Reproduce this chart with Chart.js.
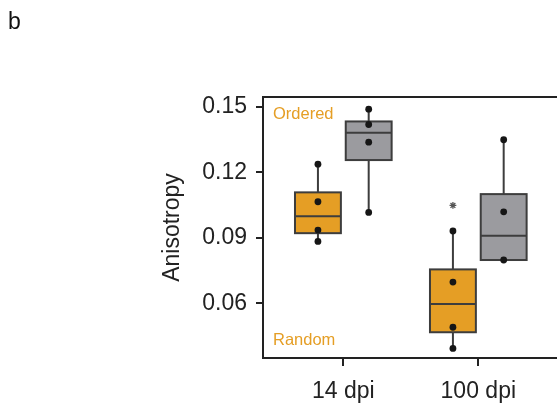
<!DOCTYPE html>
<html>
<head>
<meta charset="utf-8">
<script src="https://cdn.jsdelivr.net/npm/chart.js@4/dist/chart.umd.min.js"></script>
<style>
html,body{margin:0;padding:0;background:#fff;overflow:hidden;}
canvas{display:block;}
</style>
</head>
<body>
<canvas id="c" width="557" height="408"></canvas>
<script>
// ---- data ----
const categories = ['14 dpi', '100 dpi'];
const groups = ['Random', 'Ordered'];
const yTicks = [0.06, 0.09, 0.12, 0.15];
// [whiskerLow, q1, median, q3, whiskerHigh] per category
const randomStats = [
  [0.0883, 0.0921, 0.0999, 0.1108, 0.1237],
  [0.0393, 0.0467, 0.0596, 0.0755, 0.0931]
];
const orderedStats = [
  [0.1016, 0.1256, 0.1381, 0.1433, 0.1489],
  [0.0798, 0.0798, 0.0909, 0.1100, 0.1349]
];
const randomPoints = [
  [0.1237, 0.1065, 0.0935, 0.0883],
  [0.0931, 0.0697, 0.0490, 0.0393]
];
const orderedPoints = [
  [0.1489, 0.1419, 0.1338, 0.1016],
  [0.1349, 0.1019, 0.0798]
];
const randomOutliers = [[], [0.1048]];
const orderedOutliers = [[], []];

// ---- style ----
const ORANGE = '#E59E25';
const GREY = '#9B9B9F';
const DODGE = 0.188;
const BOXW = 0.17; // half width in x units
const groupStyle = [
  {stats: randomStats, points: randomPoints, outliers: randomOutliers, fill: ORANGE, off: -DODGE},
  {stats: orderedStats, points: orderedPoints, outliers: orderedOutliers, fill: GREY, off: DODGE}
];

const datasets = [];
groupStyle.forEach((g, gi) => {
  const pts = [];
  g.points.forEach((arr, ci) => arr.forEach(v => pts.push({x: ci + 1 + g.off, y: v})));
  datasets.push({
    label: groups[gi], type: 'scatter', data: pts,
    pointRadius: 3.4, pointHoverRadius: 3.4,
    backgroundColor: '#161616', borderColor: '#161616', borderWidth: 0
  });
  const outs = [];
  g.outliers.forEach((arr, ci) => arr.forEach(v => outs.push({x: ci + 1 + g.off, y: v})));
  datasets.push({
    label: groups[gi] + ' outliers', type: 'scatter', data: outs,
    pointStyle: 'star', pointRadius: 3.4, borderColor: '#555', borderWidth: 1.3,
    backgroundColor: '#555'
  });
});

const boxPlugin = {
  id: 'boxes',
  beforeDatasetsDraw(chart) {
    const ctx = chart.ctx, xs = chart.scales.x, ys = chart.scales.y;
    ctx.save();
    groupStyle.forEach(g => {
      g.stats.forEach((s, ci) => {
        const cx = xs.getPixelForValue(ci + 1 + g.off);
        const x0 = xs.getPixelForValue(ci + 1 + g.off - BOXW);
        const x1 = xs.getPixelForValue(ci + 1 + g.off + BOXW);
        const [wl, q1, med, q3, wh] = s.map(v => ys.getPixelForValue(v));
        ctx.strokeStyle = '#3d3d3d';
        ctx.lineWidth = 2;
        ctx.beginPath();
        ctx.moveTo(cx, wl); ctx.lineTo(cx, q1);
        ctx.moveTo(cx, q3); ctx.lineTo(cx, wh);
        ctx.stroke();
        ctx.fillStyle = g.fill;
        ctx.fillRect(x0, q3, x1 - x0, q1 - q3);
        ctx.strokeRect(x0, q3, x1 - x0, q1 - q3);
        ctx.beginPath();
        ctx.moveTo(x0, med); ctx.lineTo(x1, med);
        ctx.stroke();
      });
    });
    ctx.restore();
  },
  afterDraw(chart) {
    const ctx = chart.ctx, a = chart.chartArea;
    ctx.save();
    ctx.strokeStyle = '#222';
    ctx.lineWidth = 2;
    ctx.beginPath();
    ctx.moveTo(a.left - 1, a.top); ctx.lineTo(a.right + 2, a.top);
    ctx.stroke();
    ctx.fillStyle = ORANGE;
    ctx.font = '16.5px "Liberation Sans", Arial, sans-serif';
    ctx.textBaseline = 'middle';
    ctx.textAlign = 'left';
    ctx.fillText('Ordered', a.left + 10, a.top + 17);
    ctx.fillText('Random', a.left + 10, a.bottom - 18);
    ctx.fillStyle = '#111';
    ctx.font = '23px "Liberation Sans", Arial, sans-serif';
    ctx.textBaseline = 'alphabetic';
    ctx.fillText('b', 8, 29);
    ctx.restore();
  }
};

const FONT = {family: '"Liberation Sans", Arial, sans-serif', size: 23};

new Chart(document.getElementById('c'), {
  type: 'scatter',
  data: {datasets},
  plugins: [boxPlugin],
  options: {
    responsive: false,
    animation: false,
    devicePixelRatio: 1,
    layout: {autoPadding: false, padding: {left: 0, top: 97, right: 0, bottom: 0}},
    plugins: {legend: {display: false}, tooltip: {enabled: false}, title: {display: false}},
    scales: {
      x: {
        type: 'linear', min: 0.405, max: 2.583,
        afterBuildTicks: s => { s.ticks = [{value: 1}, {value: 2}]; },
        afterFit: s => { s.height = 50; s.paddingLeft = 0; s.paddingRight = 0; },
        ticks: {callback: v => categories[Math.round(v) - 1], font: FONT, color: '#222', padding: 12, maxRotation: 0, autoSkip: false},
        grid: {drawOnChartArea: false, drawTicks: true, tickLength: 8, color: '#222', lineWidth: 2},
        border: {display: true, color: '#222', width: 2}
      },
      y: {
        min: 0.0349, max: 0.1545,
        afterBuildTicks: s => { s.ticks = yTicks.map(v => ({value: v})); },
        afterFit: s => { s.width = 263; s.paddingTop = 0; s.paddingBottom = 0; },
        ticks: {callback: v => v.toFixed(2), font: FONT, color: '#222', padding: 9},
        grid: {drawOnChartArea: false, drawTicks: true, tickLength: 7, color: '#222', lineWidth: 2},
        border: {display: true, color: '#222', width: 2},
        title: {display: true, text: 'Anisotropy', font: FONT, color: '#222', padding: {top: 159, bottom: 0}}
      }
    }
  }
});
</script>
</body>
</html>
